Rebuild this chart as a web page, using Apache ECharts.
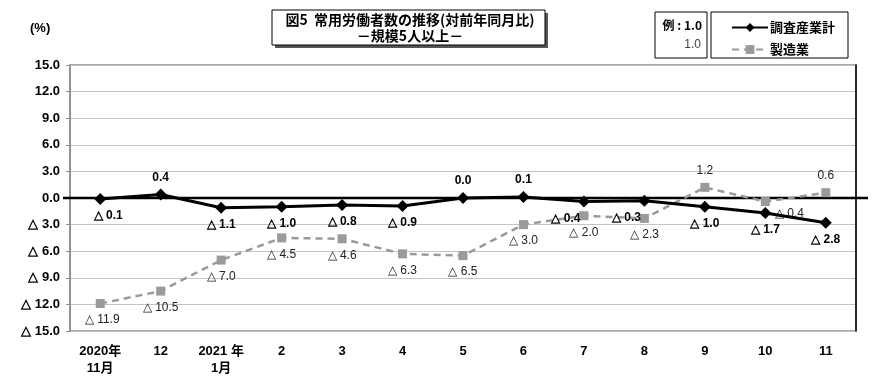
<!DOCTYPE html>
<html><head><meta charset="utf-8">
<script src="https://cdn.jsdelivr.net/npm/echarts@6/dist/echarts.min.js"></script>
<style>html,body{margin:0;padding:0;background:#fff}#c{width:890px;height:391px}</style>
</head><body><div id="c"></div>
<script>
var categories = ['2020年\n11月','12','2021 年\n1月','2','3','4','5','6','7','8','9','10','11'];
var totalValues = [-0.1, 0.4, -1.1, -1.0, -0.8, -0.9, 0.0, 0.1, -0.4, -0.3, -1.0, -1.7, -2.8];
var mfgValues = [-11.9, -10.5, -7.0, -4.5, -4.6, -6.3, -6.5, -3.0, -2.0, -2.3, 1.2, -0.4, 0.6];
var yTicks = [-15, -12, -9, -6, -3, 0, 3, 6, 9, 12, 15];
var seriesNames = ['調査産業計', '製造業'];

var FONT = '"Liberation Sans", Arial, sans-serif';
var JP = '"Noto Sans CJK JP", sans-serif';
function fmt(v) { return v < 0 ? '△ ' + Math.abs(v).toFixed(1) : v.toFixed(1); }

var totalOffsets = {0:[8,0], 8:[-18,0], 9:[-18,0]};
var mfgOffsets = {0:[2,0], 11:[24,-4]};

var totalData = totalValues.map(function (v, i) {
  var off = totalOffsets[i] || [0,0];
  return { value: v, label: { position: v >= 0 ? 'top' : 'bottom', offset: off } };
});
var mfgData = mfgValues.map(function (v, i) {
  var off = mfgOffsets[i] || [0,0];
  return { value: v, label: { position: v > 0 ? 'top' : 'bottom', offset: off } };
});

var chart = echarts.init(document.getElementById('c'), null, { renderer: 'canvas' });
var option = {
  animation: false,
  backgroundColor: '#fff',
  grid: { left: 70, right: 34, top: 65, bottom: 60, show: true, borderColor: '#8c8c8c', borderWidth: 1.5 },
  legend: {
    orient: 'vertical', left: 726, top: 16, itemGap: 9, itemWidth: 36, itemHeight: 11,
    textStyle: { fontFamily: JP, fontWeight: 'bold', fontSize: 13, color: '#000', padding: [0, 0, 0, -3] },
    data: seriesNames
  },
  xAxis: {
    type: 'category', data: categories, boundaryGap: true,
    axisLine: { show: false },
    axisTick: { show: false },
    axisLabel: { fontFamily: FONT + ',' + JP, fontWeight: 'bold', fontSize: 13, color: '#000', lineHeight: 17, margin: 12, interval: 0 }
  },
  yAxis: [{
    type: 'value', min: -15, max: 15, interval: 3,
    axisLine: { show: true, lineStyle: { color: '#8c8c8c', width: 1.5 } },
    axisTick: { show: true, length: 4, lineStyle: { color: '#8c8c8c' } },
    splitLine: { lineStyle: { color: '#c4c4c4', width: 1.2 } },
    axisLabel: { fontFamily: FONT, fontWeight: 'bold', fontSize: 13, color: '#000', margin: 10,
      formatter: function (v) { return fmt(v); } }
  }, {
    type: 'value', min: -15, max: 15, interval: 3, position: 'right',
    axisLine: { show: true, lineStyle: { color: '#000', width: 1.5 } },
    axisTick: { show: false }, axisLabel: { show: false }, splitLine: { show: false }
  }],
  series: [{
    name: seriesNames[1], type: 'line', data: mfgData, z: 2,
    symbol: 'rect', symbolSize: 9,
    itemStyle: { color: '#9a9a9a' },
    lineStyle: { color: '#9a9a9a', width: 2.5, type: [7, 5] },
    label: { show: true, formatter: function (p) { return fmt(p.value); },
      fontFamily: '"Liberation Sans Narrow", ' + FONT, fontSize: 12, color: '#222', distance: 6 }
  }, {
    name: seriesNames[0], type: 'line', data: totalData, z: 3,
    symbol: 'diamond', symbolSize: 12,
    itemStyle: { color: '#000' },
    lineStyle: { color: '#000', width: 3 },
    label: { show: true, formatter: function (p) { return fmt(p.value); },
      fontFamily: '"Liberation Sans Narrow", ' + FONT, fontWeight: 'bold', fontSize: 12, color: '#000', distance: 5 }
  }]
};
chart.setOption(option);

var y0 = chart.convertToPixel({ yAxisIndex: 0 }, 0);
chart.setOption({
  graphic: [
    { type: 'line', shape: { x1: 63, y1: y0, x2: 868, y2: y0 }, style: { stroke: '#000', lineWidth: 2.5 }, z: 1 },
    { type: 'text', left: 30, top: 22, style: { text: '(%)', font: 'bold 13px ' + FONT, fill: '#000' } },
    { type: 'rect', shape: { x: 275, y: 13, width: 273, height: 35 }, style: { fill: '#555' }, z: 5 },
    { type: 'rect', shape: { x: 272, y: 10, width: 273, height: 35 }, style: { fill: '#fff', stroke: '#000', lineWidth: 1 }, z: 6 },
    { type: 'text', x: 410, y: 20, style: { text: '図5  常用労働者数の推移(対前年同月比)', font: 'bold 14px ' + JP, fill: '#000', align: 'center', verticalAlign: 'middle' }, z: 7 },
    { type: 'text', x: 410, y: 36, style: { text: '－規模5人以上－', font: 'bold 14px ' + JP, fill: '#000', align: 'center', verticalAlign: 'middle' }, z: 7 },
    { type: 'rect', shape: { x: 655, y: 12, width: 52, height: 46 }, style: { fill: 'none', stroke: '#000', lineWidth: 1 } },
    { type: 'text', x: 702, y: 25, style: { text: '例 : 1.0', font: 'bold 12px ' + JP, fill: '#000', align: 'right', verticalAlign: 'middle' } },
    { type: 'text', x: 701, y: 45, style: { text: '1.0', font: '12px ' + FONT, fill: '#444', align: 'right', verticalAlign: 'middle' } },
    { type: 'rect', shape: { x: 711, y: 12, width: 137, height: 46 }, style: { fill: 'none', stroke: '#000', lineWidth: 1 } }
  ]
});
</script></body></html>
